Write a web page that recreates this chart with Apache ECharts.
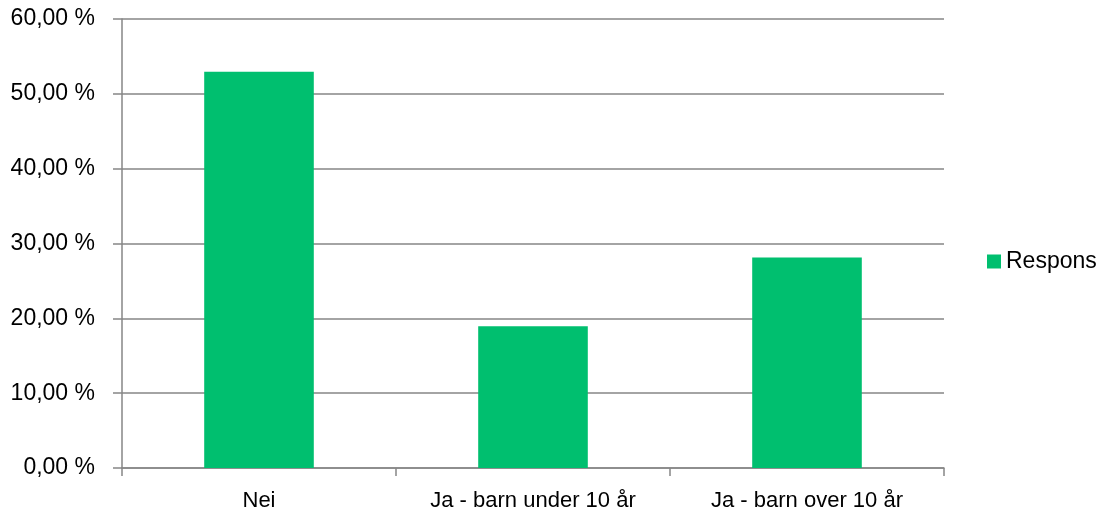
<!DOCTYPE html>
<html lang="no">
<head>
    <meta charset="UTF-8">
    <title>Respons</title>
    <script src="https://cdn.jsdelivr.net/npm/echarts@6/dist/echarts.min.js"></script>
</head>
<body style="margin:0">
<div id="main" style="width:1102px;height:515px"></div>

<script>
    var categories = ['Nei', 'Ja - barn under 10 år', 'Ja - barn over 10 år'];
    var respons = [52.96, 18.93, 28.12];
    var seriesName = 'Respons';

    var myChart = echarts.init(document.getElementById('main'));

    var option = {
        animation: false,
        backgroundColor: '#fff',
        grid: {
            left: 122,
            right: 158,
            top: 19,
            bottom: 47
        },
        legend: {
            left: 987,
            top: 250,
            padding: 0,
            icon: 'rect',
            itemWidth: 14,
            itemHeight: 14,
            itemGap: 6,
            textStyle: {
                color: '#000',
                fontSize: 23,
                fontFamily: 'Liberation Sans Narrow, sans-serif'
            },
            data: [seriesName]
        },
        xAxis: {
            type: 'category',
            data: categories,
            axisLine: { lineStyle: { color: '#868686', width: 1.5 } },
            axisTick: { show: true, length: 8, lineStyle: { color: '#868686', width: 1.5 } },
            axisLabel: {
                color: '#000',
                fontSize: 22,
                margin: 22,
                fontFamily: 'Liberation Sans Narrow, sans-serif'
            }
        },
        yAxis: {
            type: 'value',
            min: 0,
            max: 60,
            interval: 10,
            axisLine: { show: true, lineStyle: { color: '#868686', width: 1.5 } },
            axisTick: { show: true, length: 9, lineStyle: { color: '#868686', width: 1.5 } },
            splitLine: { show: true, lineStyle: { color: '#868686', width: 1.5 } },
            axisLabel: {
                color: '#000',
                fontSize: 23,
                margin: 27,
                fontFamily: 'Liberation Sans, Arial, sans-serif',
                formatter: function (v) {
                    return v.toFixed(2).replace('.', ',') + ' %';
                }
            }
        },
        series: [
            {
                name: seriesName,
                type: 'bar',
                barWidth: '40%',
                itemStyle: { color: '#00bf6f' },
                data: respons
            }
        ]
    };

    myChart.setOption(option);
</script>
</body>
</html>
